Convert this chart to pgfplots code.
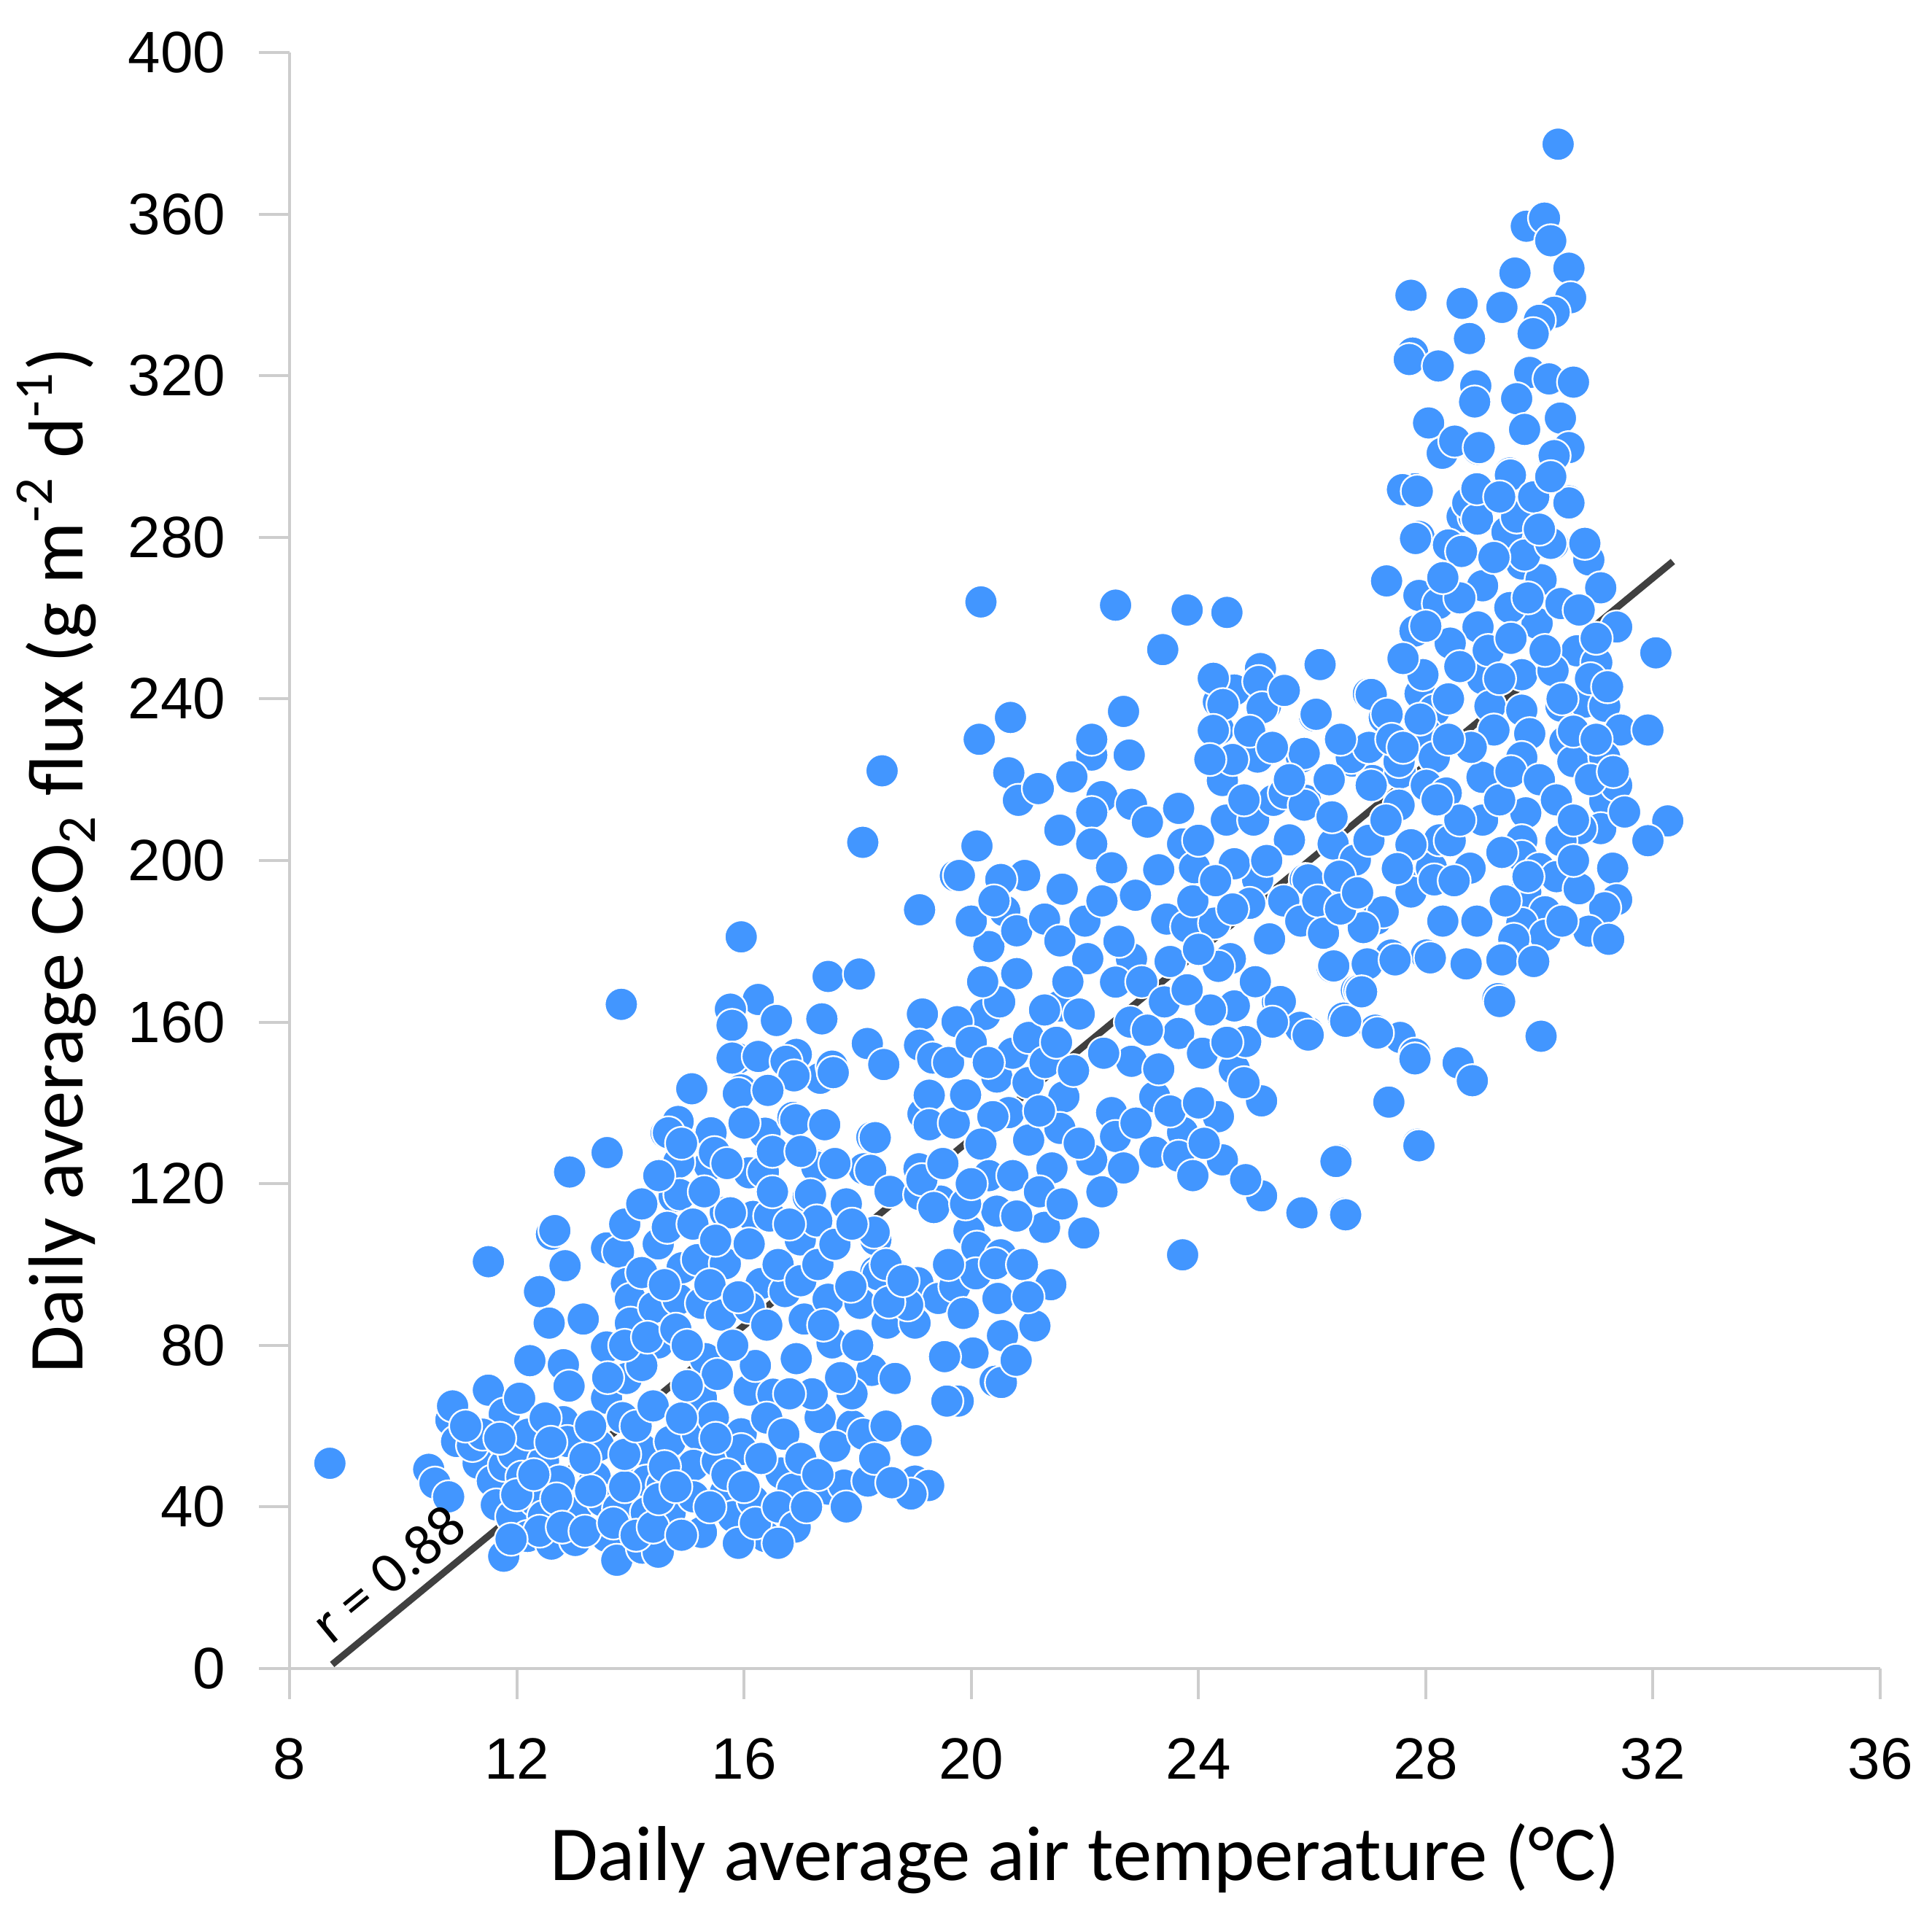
\documentclass[border=0pt]{standalone}
\usepackage{pgfplots}
\pgfplotsset{compat=1.18}
\usepackage{pgfplotstable}
\usepackage{fontspec}
\setmainfont{Liberation Sans}
\newfontfamily\calibri{Carlito}
\definecolor{dotblue}{RGB}{66,150,255}
\definecolor{axisgray}{RGB}{205,205,205}
\definecolor{linegray}{RGB}{64,64,64}

\pgfplotstableread{
x y
8.71 50.8
10.45 49.3
10.56 45.9
10.84 61.5
10.87 65.0
10.94 56.2
10.80 42.5
11.32 50.8
11.22 55.2
11.50 68.9
11.78 63.0
12.05 66.9
11.50 100.7
11.57 46.4
11.64 40.5
11.78 50.3
11.95 53.2
12.09 47.4
11.91 37.6
11.77 27.8
12.19 32.7
12.47 51.3
12.33 41.5
12.47 37.6
12.61 30.8
12.40 93.3
12.57 85.5
12.23 76.2
12.85 99.7
12.61 107.5
12.92 123.2
13.58 127.6
12.82 75.2
12.92 69.9
12.82 61.1
12.89 56.2
12.75 46.4
13.03 38.6
13.03 31.7
13.17 86.5
13.58 32.7
13.58 104.1
13.79 103.1
13.58 79.6
13.58 66.9
13.44 55.2
13.38 47.4
13.51 41.5
13.76 26.8
13.79 39.6
13.93 95.3
14.00 91.4
14.00 85.5
13.93 71.8
13.86 62.1
14.07 48.4
14.21 54.2
14.28 46.4
14.28 38.6
14.21 29.8
14.49 28.8
14.49 105.1
14.49 80.6
14.42 89.4
14.70 56.2
14.70 38.6
14.56 45.4
14.84 91.4
14.91 99.2
14.63 132.5
14.84 135.4
15.08 143.2
14.84 125.6
14.77 116.8
15.18 101.2
15.25 90.4
15.32 76.7
15.25 66.9
15.18 58.1
15.11 50.3
15.11 42.5
15.25 33.7
15.43 132.5
15.39 124.6
15.67 112.9
15.67 100.2
15.60 87.5
15.53 72.8
15.46 62.1
15.53 51.3
15.67 43.5
15.81 37.6
15.88 151.0
15.95 143.2
16.09 122.7
16.16 111.9
16.09 105.1
16.37 132.5
16.30 95.3
16.09 89.4
16.09 68.9
15.95 58.1
15.95 54.2
16.16 41.5
16.37 32.7
16.51 67.9
16.65 48.4
16.86 44.4
16.86 136.4
16.92 152.0
17.13 116.8
17.27 124.6
16.99 106.1
17.06 86.5
16.92 76.7
16.72 93.3
17.34 146.1
17.55 149.1
17.41 134.4
17.48 91.4
17.55 80.6
17.34 62.1
17.48 44.4
17.90 60.1
17.76 45.4
18.18 46.4
18.25 131.5
18.32 106.1
18.11 123.7
18.32 98.2
18.04 90.4
18.52 85.5
18.25 73.8
18.66 71.8
18.87 45.4
19.01 46.4
19.08 123.7
19.15 137.3
18.73 92.3
19.01 85.5
18.43 222.2
18.09 204.5
19.09 187.8
19.72 196.2
15.95 181.1
13.84 164.4
17.48 171.3
18.03 171.9
17.37 160.8
16.25 165.6
15.76 163.2
15.79 159.2
16.57 160.4
15.79 151.1
16.25 151.5
16.74 150.3
16.88 146.7
17.57 147.5
18.17 154.7
18.46 149.5
19.14 162.0
19.09 154.3
19.32 151.1
15.08 143.5
15.90 142.3
16.42 143.1
16.91 135.8
17.42 134.6
18.31 131.4
19.26 141.9
19.26 134.6
14.67 132.6
15.42 132.6
14.85 125.3
15.48 127.7
13.59 127.7
12.93 122.9
16.34 122.9
17.28 124.1
18.23 123.3
18.57 118.1
19.09 117.3
17.17 117.3
14.87 117.3
15.76 112.8
16.45 112.0
17.28 110.8
18.29 108.0
12.67 108.4
14.65 109.2
19.46 115.7
20.69 235.4
20.14 230.0
22.68 236.9
20.66 221.7
20.83 214.9
21.18 217.8
22.12 226.1
22.12 230.0
22.78 226.1
21.77 220.7
22.30 215.8
21.56 207.5
22.12 211.9
22.12 204.1
22.47 198.2
22.82 213.9
23.10 209.5
23.65 212.9
23.72 204.1
23.93 198.2
23.30 197.7
22.89 191.4
21.60 192.9
20.94 196.3
20.52 195.3
20.10 203.6
19.79 196.3
20.31 178.7
20.59 187.5
20.80 182.6
21.29 185.5
21.56 180.1
22.05 175.7
22.82 175.7
22.54 169.9
23.44 185.5
23.79 183.6
24.28 184.5
24.56 175.7
25.25 180.6
24.35 173.8
24.63 164.0
24.21 163.0
23.65 157.2
24.07 152.3
24.63 148.4
25.11 140.5
24.35 136.6
24.42 125.9
23.72 132.7
23.23 127.8
23.65 126.8
23.23 141.5
22.82 150.3
23.30 148.4
22.47 137.6
22.54 131.7
22.12 125.9
22.68 123.9
22.33 152.3
21.63 141.5
21.56 133.7
21.42 123.9
21.01 130.8
20.66 137.6
20.45 146.4
20.38 136.6
20.17 129.8
20.31 122.0
20.73 122.0
20.45 113.2
19.96 108.3
20.10 104.3
19.75 95.5
20.52 102.4
21.29 109.2
21.98 107.8
23.72 102.4
20.73 152.3
21.01 156.2
21.56 164.0
21.29 163.0
20.24 161.9
19.75 160.1
19.13 121.0
19.34 114.1
18.36 97.5
19.06 95.5
17.88 94.6
24.83 155.2
25.39 165.0
25.95 157.2
26.37 173.8
26.78 167.9
26.57 160.1
27.13 158.1
27.13 185.5
27.41 176.7
28.04 176.7
27.76 193.3
27.76 204.1
28.10 198.2
26.78 200.2
26.57 194.3
25.88 195.3
26.37 204.1
25.60 205.1
25.04 195.3
24.90 189.4
24.63 199.2
24.49 210.0
24.97 210.0
24.42 219.8
25.32 214.9
25.88 214.9
26.37 211.0
26.71 224.6
27.06 219.8
27.55 221.7
27.27 235.4
26.99 241.3
27.90 241.3
26.09 235.9
25.81 225.6
25.04 225.6
24.35 239.3
24.35 232.5
25.18 238.3
24.63 242.2
28.24 205.1
27.55 156.2
27.83 151.3
27.34 140.5
27.86 129.8
26.44 125.9
25.81 113.1
26.57 112.7
25.11 117.0
24.83 121.0
20.17 264.0
22.54 263.2
23.80 262.0
24.50 261.4
23.37 252.2
26.15 248.5
25.09 247.5
24.26 245.1
25.06 244.3
24.43 238.6
25.12 237.8
24.26 232.2
26.04 235.8
27.81 292.0
27.88 280.2
27.32 269.5
28.29 300.8
28.92 301.8
29.48 295.9
30.24 299.8
30.52 289.0
28.64 285.1
28.85 285.1
29.48 280.2
30.24 278.3
30.80 278.3
28.64 276.3
29.69 273.4
30.03 269.5
30.87 274.4
27.88 265.6
28.22 263.6
28.92 257.8
29.96 258.7
30.38 263.6
31.08 267.5
31.36 257.8
29.48 262.6
27.81 256.8
28.43 253.8
30.66 251.9
31.01 249.0
32.05 251.4
26.14 248.5
25.51 242.1
27.04 241.1
27.95 246.0
29.00 245.0
29.69 246.0
30.24 247.0
27.32 236.2
28.15 237.2
26.07 236.2
29.13 238.2
29.69 237.2
30.38 238.2
30.80 239.2
31.15 238.2
28.01 231.4
29.20 232.3
29.83 231.4
30.45 229.4
31.43 232.3
31.91 232.3
25.86 226.5
26.69 225.5
27.53 224.5
28.15 225.5
29.69 225.5
30.59 224.5
31.15 225.5
25.51 216.7
25.86 213.7
26.35 210.8
27.04 218.6
27.53 213.7
28.01 218.6
28.36 216.7
28.99 220.6
29.76 211.8
31.15 214.7
31.36 218.6
32.26 209.8
31.91 204.9
31.08 207.9
30.73 207.9
30.38 204.9
29.69 204.9
29.69 201.0
29.34 202.0
28.43 204.9
27.74 203.9
26.76 200.1
25.93 195.2
26.48 196.1
27.74 192.2
28.15 195.2
28.78 198.1
31.29 198.1
31.36 190.3
31.15 188.3
29.76 192.2
30.10 187.3
29.69 184.4
30.10 181.5
29.55 180.5
30.87 182.5
31.22 180.5
27.25 187.3
26.90 183.4
26.35 173.6
26.83 167.8
27.39 176.6
28.01 176.6
28.71 174.6
29.34 175.6
29.27 165.8
30.03 156.5
26.55 161.0
27.11 158.0
25.93 157.5
27.81 152.1
26.38 173.9
26.97 174.4
27.46 175.4
28.08 175.9
28.71 174.4
29.34 175.4
26.87 167.5
29.30 165.1
25.44 165.1
25.79 158.7
25.93 156.8
26.59 160.2
27.15 157.3
27.81 150.9
28.57 149.9
28.82 145.5
27.35 140.2
27.88 129.4
26.42 125.5
25.82 112.8
26.59 112.3
30.33 377.3
29.77 357.0
30.09 359.0
30.20 353.4
30.52 346.6
29.57 345.4
27.74 339.9
28.64 337.9
29.34 336.9
30.55 339.3
30.26 335.7
30.00 333.7
29.89 330.4
27.77 325.6
27.71 324.0
28.22 322.4
28.77 329.2
28.88 317.5
28.86 313.5
29.83 320.8
30.17 319.2
30.60 318.4
29.60 314.3
28.05 308.3
28.51 303.8
28.94 302.2
29.74 306.7
30.37 309.5
30.52 302.2
30.26 300.2
29.49 295.4
27.59 291.8
27.85 291.4
28.74 288.5
28.91 284.5
30.52 288.5
27.82 279.7
28.40 278.1
28.63 276.5
29.43 281.3
29.74 275.6
30.20 278.5
30.80 278.5
27.31 269.2
19.42 91.6
19.71 94.6
19.86 87.9
20.08 97.7
20.42 100.2
20.47 91.6
20.55 82.4
20.03 78.1
19.53 77.2
20.42 71.1
20.53 70.8
20.79 76.3
21.12 84.8
19.77 66.2
19.57 66.2
19.03 56.4
18.88 90.0
18.55 90.7
19.25 45.3
18.94 43.2
12.20 58.0
12.50 62.0
12.00 43.0
12.30 48.0
12.70 42.0
12.40 34.0
11.90 32.0
12.80 35.0
12.60 56.0
11.40 58.0
11.70 57.0
11.10 60.0
13.20 34.0
13.30 44.0
13.20 52.0
13.30 60.0
13.70 36.0
13.90 45.0
13.90 53.0
14.10 33.0
14.40 35.0
14.50 42.0
14.60 50.0
14.10 60.0
14.40 65.0
13.60 72.0
14.20 75.0
13.90 80.0
14.80 45.0
14.90 33.0
14.90 62.0
15.00 70.0
15.40 40.0
15.50 57.0
15.70 48.0
15.90 31.0
16.00 45.0
16.20 36.0
16.30 52.0
16.40 62.0
16.60 40.0
16.70 58.0
16.90 35.0
17.00 52.0
17.10 40.0
17.20 68.0
17.30 48.0
16.60 31.0
17.60 55.0
17.80 40.0
17.90 68.0
18.10 58.0
18.30 52.0
18.50 60.0
18.60 46.0
16.20 75.0
16.80 68.0
17.70 72.0
18.00 80.0
14.20 98.0
14.60 95.0
14.30 82.0
14.80 84.0
15.00 80.0
15.40 95.0
15.10 110.0
15.50 106.0
15.80 80.0
15.90 92.0
16.40 85.0
16.60 100.0
16.80 110.0
16.50 118.0
17.00 96.0
17.30 100.0
17.60 105.0
17.80 115.0
17.40 85.0
13.90 110.0
14.20 115.0
14.50 122.0
14.90 130.0
15.30 118.0
15.70 125.0
16.00 135.0
16.50 128.0
17.00 128.0
17.60 125.0
17.90 110.0
18.50 100.0
18.80 96.0
19.60 100.0
19.90 115.0
19.50 125.0
19.70 135.0
19.90 142.0
19.60 150.0
20.00 155.0
20.30 150.0
20.50 165.0
20.20 170.0
20.00 185.0
20.40 190.0
20.80 172.0
21.00 145.0
21.30 150.0
21.20 138.0
21.50 155.0
21.80 148.0
21.90 162.0
21.70 170.0
22.00 185.0
22.30 190.0
22.60 180.0
22.80 160.0
23.00 170.0
23.10 158.0
23.40 165.0
23.50 175.0
23.80 168.0
23.90 190.0
24.00 178.0
24.30 195.0
21.20 118.0
21.60 115.0
21.90 130.0
22.30 118.0
22.90 135.0
23.50 138.0
24.00 140.0
24.10 130.0
23.90 122.0
20.90 100.0
21.40 95.0
21.00 92.0
20.80 112.0
20.00 120.0
24.60 225.0
24.90 232.0
25.30 228.0
25.60 220.0
25.20 200.0
25.50 190.0
25.80 185.0
26.10 190.0
26.20 182.0
26.50 188.0
26.80 192.0
27.00 205.0
27.30 210.0
27.50 198.0
27.00 228.0
27.40 230.0
26.50 230.0
26.30 220.0
24.80 215.0
24.20 225.0
24.00 205.0
24.60 188.0
25.00 170.0
25.30 160.0
24.80 145.0
24.50 155.0
28.40 240.0
28.60 248.0
28.80 228.0
29.10 252.0
29.30 245.0
29.50 255.0
29.80 265.0
30.10 252.0
30.40 240.0
30.60 232.0
30.90 245.0
31.20 243.0
29.00 268.0
29.20 275.0
29.60 285.0
29.90 290.0
30.20 295.0
30.00 282.0
28.60 265.0
28.30 270.0
28.90 292.0
29.30 290.0
29.00 210.0
29.30 215.0
29.50 222.0
30.00 220.0
30.30 215.0
30.60 210.0
30.90 220.0
31.00 230.0
30.00 198.0
30.30 196.0
30.70 193.0
29.80 196.0
29.40 190.0
28.90 185.0
28.50 195.0
28.30 185.0
28.60 210.0
28.20 215.0
30.40 185.0
29.90 175.0
30.60 200.0
31.30 222.0
31.50 212.0
31.00 255.0
30.70 262.0
28.40 230.0
27.90 235.0
27.60 250.0
28.00 258.0
27.60 228.0
}\scatterdata

\begin{document}
\begin{tikzpicture}
\begin{axis}[
  name=ax,
  set layers,
  scale only axis,
  width=327.15pt, height=332.4pt,
  xmin=8, xmax=36, ymin=0, ymax=400,
  xtick={8,12,...,36}, ytick={0,40,...,400},
  axis lines*=left,
  axis line style={draw=axisgray, line width=0.6pt},
  tick style={draw=axisgray, line width=0.6pt},
  tick align=outside,
  major tick length=6.3pt,
  /pgf/number format/assume math mode=true,
  ticklabel style={font=\fontsize{12}{14}\selectfont},
  xticklabel style={yshift=-4.5pt},
  yticklabel style={xshift=-3.3pt},
  clip=false,
  xlabel={Daily average air temperature (°C)},
  ylabel={Daily average CO\textsubscript{2} flux (g m\textsuperscript{-2} d\textsuperscript{-1})},
  xlabel style={font=\calibri\fontsize{16}{19}\selectfont, at={(axis description cs:0.5,0)}, anchor=base, yshift=-43.5pt},
  ylabel style={font=\calibri\fontsize{16}{19}\selectfont, at={(axis description cs:-0.130,0.5)}, anchor=base},
]
\addplot[only marks, mark=*, mark size=3.4pt,
  mark options={fill=dotblue, draw=white, line width=0.35pt}]
  table[x=x, y=y] {\scatterdata};
\addplot[linegray, line width=1.4pt] coordinates {(8.75,1) (32.35,274)};
\begin{pgfonlayer}{axis foreground}
\node[rotate=39.4, anchor=base west, inner sep=0pt, font=\calibri\fontsize{12}{14}\selectfont]
  at (axis cs:8.72,5.5) {r = 0.88};
\end{pgfonlayer}
\end{axis}
\pgfresetboundingbox
\path[use as bounding box] ([xshift=-59.55pt,yshift=-48.9pt]ax.south west) rectangle ([xshift=10.65pt,yshift=10.8pt]ax.north east);
\end{tikzpicture}
\end{document}
